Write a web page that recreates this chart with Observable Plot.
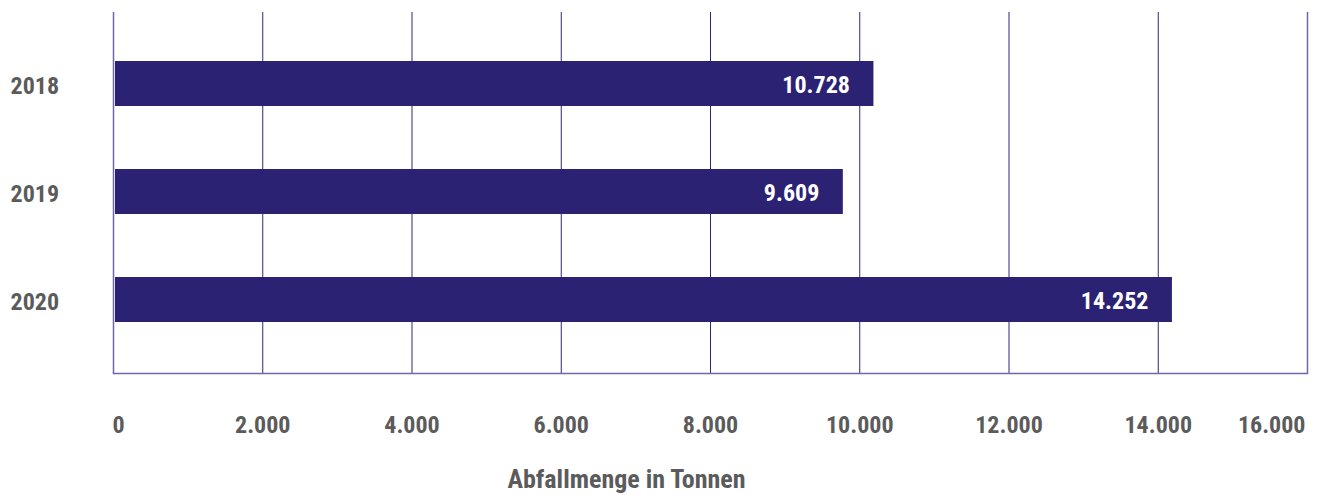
<!DOCTYPE html>
<html>
<head>
<meta charset="utf-8">
<script src="https://cdn.jsdelivr.net/npm/d3@7"></script>
<script src="https://cdn.jsdelivr.net/npm/@observablehq/plot@0.6"></script>
<style>
  html, body { margin: 0; padding: 0; background: #fff; }
  #chart svg { display: block; }
</style>
</head>
<body>
<div id="chart"></div>
<script>
// Data
const years = ["2018", "2019", "2020"];
const barLengths = [10190, 9780, 14190];          // bar extents as drawn
const valueLabels = [10728, 9609, 14252];        // printed values
const xTicks = [0, 2000, 4000, 6000, 8000, 10000, 12000, 14000, 16000];
const axisTitle = "Abfallmenge in Tonnen";

const rows = years.map((y, i) => ({year: y, bar: barLengths[i], value: valueLabels[i]}));
const fmt = n => n === 0 ? "0" : d3.format(",")(n).replace(/,/g, ".");

const FONT = "'Liberation Sans Narrow', 'Roboto Condensed', 'DejaVu Sans Condensed', sans-serif";
const GRID = "#2f2878";
const FRAME = "#6f66ad";
const GREY = "#5b5b5b";
const first = xTicks[0], last = xTicks[xTicks.length - 1];
const midTicks = xTicks.filter(t => t !== first && t !== last);

const chart = Plot.plot({
  width: 1323,
  height: 495,
  marginLeft: 113,
  marginRight: 16,
  marginTop: 12,
  marginBottom: 122,
  style: {fontFamily: FONT, fontWeight: "bold", fontSize: "24px", background: "#fff"},
  x: {domain: [first, last], axis: null},
  y: {domain: years, range: [29, 354], paddingInner: 0.585, paddingOuter: 0.29, axis: null},
  marks: [
    Plot.ruleX(midTicks, {stroke: GRID, strokeWidth: 1}),
    Plot.ruleX([first, last], {stroke: FRAME, strokeWidth: 1.5}),
    Plot.frame({anchor: "bottom", stroke: FRAME, strokeWidth: 1.5}),
    Plot.barX(rows, {x: "bar", y: "year", fill: "#2b2273", insetLeft: 2}),
    Plot.text(rows, {x: "bar", y: "year", text: d => fmt(d.value), textAnchor: "end", dx: -24, dy: 1,
      fill: "#ffffff", fontSize: 24, fontWeight: "bold"}),
    Plot.text(rows, {y: "year", text: "year", frameAnchor: "left", textAnchor: "start", dx: -103, dy: 2,
      fill: GREY, fontSize: 24, fontWeight: "bold"}),
    Plot.text(midTicks, {x: d => d, text: d => fmt(d), frameAnchor: "bottom", dy: 59,
      fill: GREY, fontSize: 24, fontWeight: "bold"}),
    Plot.text([first], {x: d => d, text: d => fmt(d), frameAnchor: "bottom", dy: 59, dx: 5,
      fill: GREY, fontSize: 24, fontWeight: "bold"}),
    Plot.text([last], {x: d => d, text: d => fmt(d), frameAnchor: "bottom", dy: 59, dx: -2,
      textAnchor: "end", fill: GREY, fontSize: 24, fontWeight: "bold"}),
    Plot.text([axisTitle], {text: d => d, frameAnchor: "bottom", dx: -84, dy: 114,
      fill: GREY, fontSize: 26, fontWeight: "bold"})
  ]
});
document.getElementById("chart").appendChild(chart);
</script>
</body>
</html>
